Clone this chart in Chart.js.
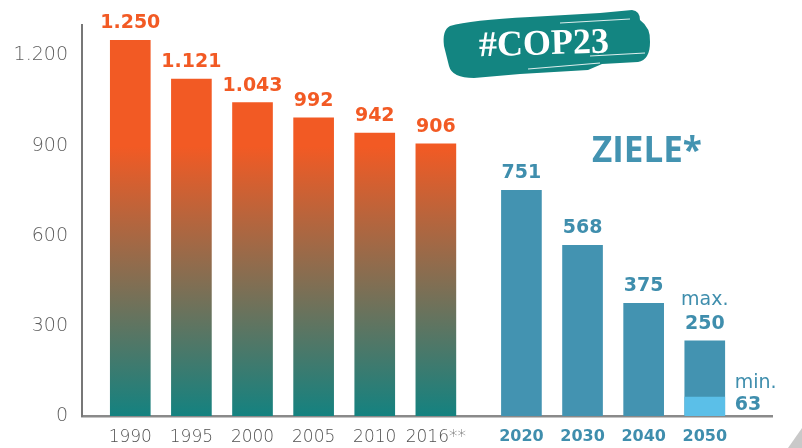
<!DOCTYPE html>
<html>
<head>
<meta charset="utf-8">
<script src="https://cdn.jsdelivr.net/npm/chart.js@4.4.1/dist/chart.umd.min.js"></script>
<style>
  html, body { margin: 0; padding: 0; background: #fff; }
  #wrap { width: 802px; height: 448px; }
</style>
</head>
<body>
<div id="wrap"><canvas id="mycanvas" width="802" height="448"></canvas></div>
<script>
// Treibhausgas-Emissionen (Mio. t CO2-Äq.) und Ziele
var years = ["1990", "1995", "2000", "2005", "2010", "2016**", "2020", "2030", "2040", "2050"];
var emissions = [1250, 1121, 1043, 992, 942, 906, 751, 568, 375, 250];
var isTarget = [false, false, false, false, false, false, true, true, true, true];
var minTarget = [null, null, null, null, null, null, null, null, null, 63];
var yTicks = [0, 300, 600, 900, 1200];

var ORANGE = "#f25a24";
var TEAL = "#148280";
var BLUE = "#4393b1";
var BLUE_TXT = "#3f8ead";
var LIGHT_BLUE = "#5bbfe8";

// German thousands separator: 1250 -> "1.250"
function fmt(v) {
  return String(v).replace(/\B(?=(\d{3})+(?!\d))/g, ".");
}

// target years sit a little further right than the historic ones
function slot(i) {
  return i + (isTarget[i] ? 0.4 : 0);
}

var mainPoints = emissions.map(function (v, i) { return { x: slot(i), y: v }; });
var minPoints = [];
minTarget.forEach(function (v, i) { if (v !== null) minPoints.push({ x: slot(i), y: v }); });

function barFill(context) {
  var chart = context.chart;
  var area = chart.chartArea;
  if (isTarget[context.dataIndex]) return BLUE;
  if (!area) return ORANGE;
  var g = chart.ctx.createLinearGradient(0, area.top, 0, area.bottom);
  g.addColorStop(0, ORANGE);
  g.addColorStop(0.31, ORANGE);
  g.addColorStop(1, TEAL);
  return g;
}

var valueLabels = {
  id: "valueLabels",
  afterDatasetsDraw: function (chart) {
    var ctx = chart.ctx;
    var meta = chart.getDatasetMeta(1);
    ctx.save();
    ctx.textAlign = "center";
    ctx.textBaseline = "alphabetic";
    meta.data.forEach(function (bar, i) {
      ctx.fillStyle = isTarget[i] ? BLUE_TXT : ORANGE;
      ctx.font = "bold 19px 'DejaVu Sans'";
      ctx.fillText(fmt(emissions[i]), bar.x, bar.y - 12);
      if (minTarget[i] !== null) {
        ctx.font = "19px 'DejaVu Sans'";
        ctx.fillText("max.", bar.x, bar.y - 36);
      }
    });
    // min. label beside the lower part of the 2050 bar
    var minMeta = chart.getDatasetMeta(0);
    minMeta.data.forEach(function (bar) {
      var idx = minTarget.findIndex(function (v) { return v !== null; });
      var left = bar.x + bar.width / 2 + 10;
      ctx.textAlign = "left";
      ctx.fillStyle = BLUE_TXT;
      ctx.font = "19px 'DejaVu Sans'";
      ctx.fillText("min.", left, bar.y - 9);
      ctx.font = "bold 19px 'DejaVu Sans'";
      ctx.fillText(fmt(minTarget[idx]), left, bar.y + 13);
    });
    ctx.restore();
  }
};

var decorations = {
  id: "decorations",
  afterDraw: function (chart) {
    var ctx = chart.ctx;
    ctx.save();
    // brush-stroke badge
    ctx.fillStyle = "#138581";
    ctx.beginPath();
    ctx.moveTo(450, 26);
    ctx.quadraticCurveTo(470, 20, 530, 17);
    ctx.lineTo(600, 13);
    ctx.lineTo(632, 10);
    ctx.quadraticCurveTo(640, 11, 640, 20);
    ctx.quadraticCurveTo(651, 28, 650, 42);
    ctx.quadraticCurveTo(650, 60, 638, 62);
    ctx.lineTo(602, 64);
    ctx.lineTo(588, 70);
    ctx.lineTo(520, 74);
    ctx.lineTo(474, 78);
    ctx.quadraticCurveTo(452, 78, 449, 66);
    ctx.lineTo(444, 46);
    ctx.quadraticCurveTo(442, 30, 450, 26);
    ctx.closePath();
    ctx.fill();
    ctx.strokeStyle = "rgba(255,255,255,0.85)";
    ctx.lineWidth = 1.2;
    ctx.beginPath();
    ctx.moveTo(528, 69); ctx.lineTo(600, 63);
    ctx.moveTo(560, 23); ctx.lineTo(630, 19);
    ctx.moveTo(590, 56); ctx.lineTo(645, 53);
    ctx.stroke();
    ctx.translate(544, 45);
    ctx.rotate(-0.03);
    ctx.fillStyle = "#ffffff";
    ctx.font = "bold 36px 'Liberation Serif'";
    ctx.textAlign = "center";
    ctx.textBaseline = "middle";
    ctx.fillText("#COP23", 0, 0);
    ctx.restore();

    ctx.save();
    ctx.fillStyle = BLUE;
    ctx.font = "bold 35px 'Open Sans'";
    ctx.textAlign = "left";
    ctx.textBaseline = "alphabetic";
    ctx.fillText("ZIELE*", 592, 162);
    // grey corner mark
    ctx.fillStyle = "#c9c9c9";
    ctx.beginPath();
    ctx.moveTo(788, 448);
    ctx.lineTo(802, 428);
    ctx.lineTo(802, 448);
    ctx.closePath();
    ctx.fill();
    ctx.restore();
  }
};

var ctx = document.getElementById("mycanvas").getContext("2d");
var emissionChart = new Chart(ctx, {
  type: "bar",
  data: {
    datasets: [
      {
        label: "min.",
        data: minPoints,
        backgroundColor: LIGHT_BLUE,
        order: 0
      },
      {
        label: "Emissionen",
        data: mainPoints,
        backgroundColor: barFill,
        order: 1
      }
    ]
  },
  options: {
    responsive: false,
    animation: false,
    grouped: false,
    barThickness: 40,
    layout: { padding: { top: 22, right: 30, left: 0, bottom: 0 } },
    plugins: {
      legend: { display: false },
      tooltip: { enabled: false }
    },
    scales: {
      x: {
        type: "linear",
        min: -0.79,
        max: 10.5,
        offset: false,
        grid: { display: false, drawTicks: false },
        border: { display: true, color: "#8a8a8a", width: 2.5 },
        afterBuildTicks: function (scale) {
          scale.ticks = years.map(function (y, i) { return { value: slot(i) }; });
        },
        afterFit: function (scale) { scale.height = 32; },
        ticks: {
          autoSkip: false,
          maxRotation: 0,
          padding: 11,
          callback: function (v, i) { return years[i]; },
          color: function (c) { return isTarget[c.index] ? BLUE_TXT : "#505050"; },
          font: function (c) {
            return isTarget[c.index]
              ? { family: "DejaVu Sans", size: 16, weight: "bold" }
              : { family: "DejaVu Sans", size: 17, weight: "200" };
          }
        }
      },
      y: {
        min: 0,
        max: 1300,
        grid: { display: false, drawTicks: false },
        border: { display: true, color: "#777777", width: 2 },
        afterBuildTicks: function (scale) {
          scale.ticks = yTicks.map(function (v) { return { value: v }; });
        },
        afterFit: function (scale) { scale.width = 82; },
        ticks: {
          padding: 14,
          color: "#5e5e5e",
          font: { family: "DejaVu Sans", size: 19, weight: "200" },
          callback: function (v) { return fmt(v); }
        }
      }
    }
  },
  plugins: [valueLabels, decorations]
});
</script>
</body>
</html>
